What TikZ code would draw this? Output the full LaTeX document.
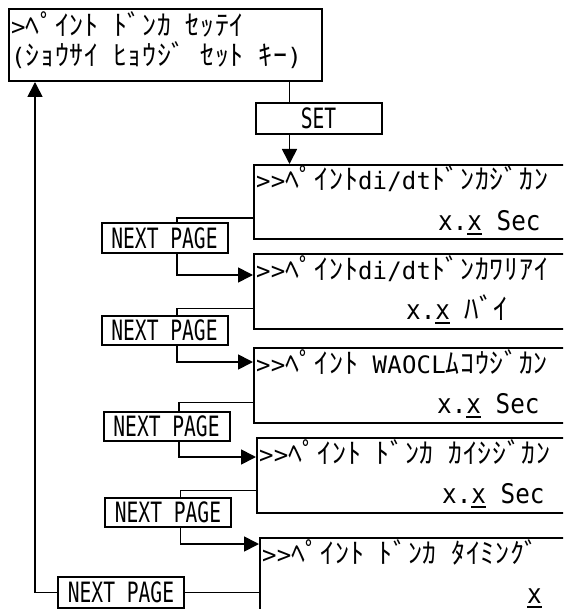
\documentclass[tikz,border=0pt]{standalone}
\usepackage{fontspec}
\usetikzlibrary{arrows.meta,positioning}

\newfontfamily\kanafont{Noto Sans CJK JP}[LetterSpace=2.5]
\newfontfamily\valkana{Noto Sans CJK JP}[LetterSpace=0.5]
\newfontfamily\lcdfont{DejaVu Sans Mono}[LetterSpace=0.8,Ligatures=TeXOff]
\newfontfamily\valfont{DejaVu Sans Mono}[FakeStretch=0.9,Ligatures=TeXOff]
\newfontfamily\keyfont{DejaVu Sans Mono}[FakeStretch=0.7,Ligatures=TeXOff]
\newcommand{\kn}[1]{{\kanafont\fontsize{28}{28}\selectfont #1}}
\newcommand{\ulx}[1]{\setbox0=\hbox{#1}\rlap{\rule[-5pt]{\wd0}{2pt}}\box0\relax}

\begin{document}
\begin{tikzpicture}[x=1pt,y=-1pt,
	screen/.style={draw,line width=2pt,anchor=north west,minimum width=330pt,minimum height=75pt,inner sep=0pt},
	keybox/.style={draw,line width=2pt,minimum width=126pt,minimum height=29pt,inner sep=0pt,font=\keyfont\fontsize{28}{28}\selectfont},
	lcdrow/.style={anchor=base west,inner sep=0pt,font=\lcdfont\fontsize{24}{24}\selectfont},
	lcdval/.style={anchor=base west,inner sep=0pt,font=\valfont\fontsize{27}{27}\selectfont},
	wire/.style={line width=1.7pt},
	>={Triangle[width=15pt,length=15pt]}]

	\useasboundingbox (0,0) rectangle (563,609);
	\clip (0,0) rectangle (563,609);

	% Menue oben
	\node [screen,minimum width=313pt,minimum height=72pt] (menu) at (8,8) {};
	\node [lcdrow] (menu1) at ([shift={(3,28)}]menu.north west) {>\kn{ﾍﾟｲﾝﾄ} \kn{ﾄﾞﾝｶ} \kn{ｾｯﾃｲ}};
	\node [lcdrow] (menu2) at ([shift={(3,58)}]menu.north west) {(\kn{ｼｮｳｻｲ} \kn{ﾋｮｳｼﾞ} \kn{ｾｯﾄ} \kn{ｷｰ})};

	\node [keybox,minimum height=31pt] (set) at (318.5,118.5) {SET};
	\coordinate (setin) at ([xshift=35pt]set.north west);
	\coordinate (setout) at ([xshift=35pt]set.south west);
	\draw [wire] (menu.south -| setin) -- (setin);

	% Anzeigen
	\node [screen,minimum height=74pt] (scr1) at (253,164) {};
	\node [lcdrow] (scr1a) at ([shift={(3,26)}]scr1.north west) {>>\kn{ﾍﾟｲﾝﾄ}di/dt\kn{ﾄﾞﾝｶｼﾞｶﾝ}};
	\node [lcdval] (scr1b) at ([shift={(185,66)}]scr1.north west) {x.\ulx{x} Sec};

	\node [screen] (scr2) at (253,253) {};
	\node [lcdrow] (scr2a) at ([shift={(3,26)}]scr2.north west) {>>\kn{ﾍﾟｲﾝﾄ}di/dt\kn{ﾄﾞﾝｶﾜﾘｱｲ}};
	\node [lcdval] (scr2b) at ([shift={(153,66)}]scr2.north west) {x.\ulx{x} {\valkana\fontsize{29}{29}\selectfont ﾊﾞｲ}};

	\node [screen] (scr3) at (253,347) {};
	\node [lcdrow] (scr3a) at ([shift={(3,26)}]scr3.north west) {>>\kn{ﾍﾟｲﾝﾄ} WAOCL\kn{ﾑｺｳｼﾞｶﾝ}};
	\node [lcdval] (scr3b) at ([shift={(184,66)}]scr3.north west) {x.\ulx{x} Sec};

	\node [screen] (scr4) at (256,437) {};
	\node [lcdrow] (scr4a) at ([shift={(3,26)}]scr4.north west) {>>\kn{ﾍﾟｲﾝﾄ} \kn{ﾄﾞﾝｶ} \kn{ｶｲｼｼﾞｶﾝ}};
	\node [lcdval] (scr4b) at ([shift={(186,66)}]scr4.north west) {x.\ulx{x} Sec};

	\node [screen] (scr5) at (259,537) {};
	\node [lcdrow] (scr5a) at ([shift={(3,26)}]scr5.north west) {>>\kn{ﾍﾟｲﾝﾄ} \kn{ﾄﾞﾝｶ} \kn{ﾀｲﾐﾝｸﾞ}};
	\node [lcdval] (scr5b) at ([shift={(268,66)}]scr5.north west) {\ulx{x}};

	\draw [wire,->] (setout) -- (setout |- scr1.north);

	% NEXT PAGE Tasten
	\node [keybox] (np1) at (164.5,238) {NEXT PAGE};
	\node [keybox] (np2) at (164.5,330) {NEXT PAGE};
	\node [keybox] (np3) at (166.5,426) {NEXT PAGE};
	\node [keybox] (np4) at (168,512) {NEXT PAGE};
	\node [keybox,minimum height=31pt] (np5) at (121,592.5) {NEXT PAGE};

	\draw [wire] ([yshift=-16pt]scr1.west) -| ([xshift=12.5pt]np1.north);
	\draw [wire,->] ([xshift=12.5pt]np1.south) |- ([yshift=-22pt]scr2.north west);
	\draw [wire] ([yshift=-17pt]scr2.west) -| ([xshift=12.5pt]np2.north);
	\draw [wire,->] ([xshift=12.5pt]np2.south) |- ([yshift=-15pt]scr3.north west);
	\draw [wire] ([yshift=-17pt]scr3.west) -| ([xshift=12.5pt]np3.north);
	\draw [wire,->] ([xshift=12.5pt]np3.south) |- ([yshift=-20pt]scr4.north west);
	\draw [wire] ([yshift=-15pt]scr4.west) -| ([xshift=12.5pt]np4.north);
	\draw [wire,->] ([xshift=12.5pt]np4.south) |- ([yshift=-7pt]scr5.north west);

	\draw [wire] (np5.east) -- (np5.east -| scr5.west);
	\draw [wire,->] (np5.west) -| ([xshift=27pt]menu.south west);
\end{tikzpicture}
\end{document}
